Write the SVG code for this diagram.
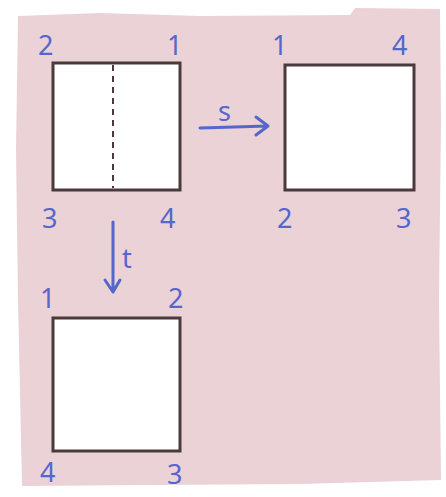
<svg xmlns="http://www.w3.org/2000/svg" width="446" height="497" viewBox="0 0 446 497">
<style>
.sq{fill:#ffffff;stroke:#4a3a3c;stroke-width:3;}
.lb{font-family:"Noto Sans","DejaVu Sans",sans-serif;font-size:27px;fill:#5566cc;}
.ar{stroke:#5566cc;stroke-width:3;fill:none;stroke-linecap:round;stroke-linejoin:round;}
</style>
<rect width="446" height="497" fill="#ffffff"/>
<path d="M18 16 L100 13 L200 16 L350 15 L355 8 L440 9 L441 120 L439 300 L441 480 L300 484 L150 485 L22 486 L18 300 L16 150 Z" fill="#ebd2d7"/>
<g id="node-a">
<rect class="sq" x="53" y="63" width="127" height="127"/>
<line x1="113" y1="65" x2="113" y2="188" stroke="#4a3a3c" stroke-width="2" stroke-dasharray="6,5"/>
<text class="lb" x="38" y="55">2</text>
<text class="lb" x="167" y="55">1</text>
<text class="lb" x="42" y="228">3</text>
<text class="lb" x="160" y="228">4</text>
</g>
<g id="node-b">
<rect class="sq" x="285" y="65" width="129" height="125"/>
<text class="lb" x="272" y="55">1</text>
<text class="lb" x="392" y="55">4</text>
<text class="lb" x="277" y="228">2</text>
<text class="lb" x="396" y="228">3</text>
</g>
<g id="node-c">
<rect class="sq" x="53" y="318" width="127" height="133"/>
<text class="lb" x="40" y="308">1</text>
<text class="lb" x="168" y="308">2</text>
<text class="lb" x="40" y="482">4</text>
<text class="lb" x="167" y="484">3</text>
</g>
<g id="connectors">
<path class="ar" d="M200 128 L268 126 M256 117 L268 126 L256 135"/>
<text class="lb" x="218" y="121">s</text>
<path class="ar" d="M113 222 L113 292 M105 280 L113 292 L120 280"/>
<text class="lb" x="122" y="268">t</text>
</g>
</svg>
